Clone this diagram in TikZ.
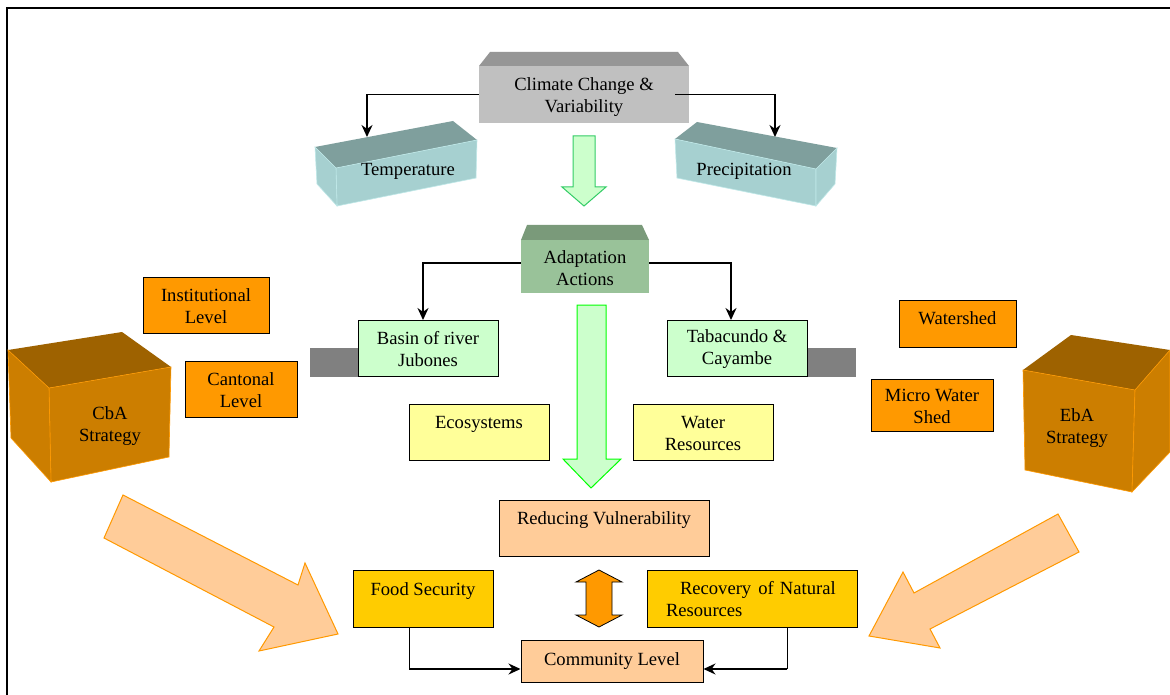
\documentclass[tikz,border=0pt]{standalone}
\usepackage{fontspec}
\setmainfont{Liberation Serif}
\usetikzlibrary{arrows.meta}
\definecolor{grayF}{HTML}{C0C0C0}\definecolor{grayT}{HTML}{969696}
\definecolor{tealF}{HTML}{A6D0D0}\definecolor{tealT}{HTML}{7F9F9D}\definecolor{tealE}{HTML}{BFE8E8}
\definecolor{adF}{HTML}{99C299}\definecolor{adT}{HTML}{7A9A7A}
\definecolor{cubeF}{HTML}{CC7E00}\definecolor{cubeT}{HTML}{9E6200}\definecolor{cubeE}{HTML}{FF9900}
\definecolor{orangeB}{HTML}{FF9900}\definecolor{yellowB}{HTML}{FFFF99}\definecolor{mintB}{HTML}{CCFFCC}
\definecolor{peachB}{HTML}{FFCC99}\definecolor{goldB}{HTML}{FFCC00}\definecolor{barG}{HTML}{808080}
\definecolor{arrowG}{HTML}{33CC66}
\newcommand\lowr[1]{\rule{0pt}{\dimexpr13pt+#1*2\relax}}
\tikzset{
  txt/.style={font=\fontsize{18.6}{22}\selectfont,align=center,text=black,inner sep=0pt},
  box/.style={txt,draw=black,line width=1pt},
  orangebox/.style={box,fill=orangeB},
  yellowbox/.style={box,fill=yellowB,minimum width=140pt,minimum height=56pt},
  mintbox/.style={box,fill=mintB,minimum width=140pt,minimum height=56pt},
  peachbox/.style={box,fill=peachB},
  goldbox/.style={box,fill=goldB,minimum height=57pt},
  conn/.style={draw=black,line width=1.5pt,-{Stealth[length=12pt,width=11pt]}},
  bigarrow/.style={fill=mintB,line width=1pt},
  peacharrow/.style={fill=peachB,draw=cubeE,line width=1pt},
}
\begin{document}
\begin{tikzpicture}[x=1pt,y=-1pt]
\useasboundingbox (0,0) rectangle (1170,695);
\fill[white] (0,0) rectangle (1170,695);
% frame
\coordinate (fa) at (7,695);\coordinate (fb) at (7,8);\coordinate (fc) at (1170,8);
\draw[black,line width=1.6pt] (fa) -- (fb) -- (fc);
% gray bars
\fill[barG] (310,348) rectangle (360,377);
\fill[barG] (805,348) rectangle (856,377);
% climate block
\fill[grayT] (490,52) -- (678,52) -- (689,66) -- (479,66) -- cycle;
\node[txt,fill=grayF,minimum width=210pt,minimum height=57pt] (climate) at (584,94.5) {\lowr{3pt}Climate Change \&\\Variability};
% temperature block
\fill[tealT] (315,147) -- (453,121) -- (477,140) -- (336,168) -- cycle;
\fill[tealF,draw=tealE,line width=.6pt] (336,168) -- (477,140) -- (476,178) -- (337,206) -- cycle;
\fill[tealF,draw=tealE,line width=.6pt] (315,147) -- (336,168) -- (337,206) -- (317,184) -- cycle;
\node[txt] (temp) at (408,171) {Temperature};
\coordinate (temptop) at (367,137);
% precipitation block
\fill[tealT] (675,139) -- (697,122) -- (837,148) -- (816,169) -- cycle;
\fill[tealF,draw=tealE,line width=.6pt] (675,139) -- (816,169) -- (816,206) -- (677,178) -- cycle;
\fill[tealF,draw=tealE,line width=.6pt] (816,169) -- (837,148) -- (835,184) -- (816,206) -- cycle;
\node[txt] (prec) at (744,171) {Precipitation};
\coordinate (prectop) at (775,137);
\draw[conn] (climate.west) -| (temptop);
\draw[conn] ([xshift=-14pt]climate.east) -| (prectop);
% first green arrow
\draw[bigarrow,draw=arrowG] (573,136) -- (595,136) -- (595,187) -- (606,187) -- (584,206) -- (562,187) -- (573,187) -- cycle;
% adaptation
\fill[adT] (527,225) -- (642,225) -- (649,240) -- (521,240) -- cycle;
\node[txt,fill=adF,minimum width=128pt,minimum height=53pt] (adapt) at (585,266.5) {\lowr{2pt}Adaptation\\Actions};
\node[mintbox] (basin) at (428,348) {\lowr{1pt}Basin of river\\Jubones};
\node[mintbox] (taba) at (737,348) {\lowr{1pt}Tabacundo \&\\Cayambe};
\coordinate (basintop) at (423,320);
\coordinate (tabatop) at (731,320);
\draw[conn] ([yshift=3.5pt]adapt.west) -| (basintop);
\draw[conn] ([yshift=3.5pt]adapt.east) -| (tabatop);
% big green arrow
\draw[bigarrow,draw=green] (577,305) -- (606,305) -- (606,459) -- (621,459) -- (591,488) -- (563,459) -- (577,459) -- cycle;
\node[yellowbox] (eco) at (479,432) {Ecosystems\\[-9pt]\strut};
\node[yellowbox] (water) at (703,432) {\lowr{1.2pt}Water\\Resources};
% orange boxes
\node[orangebox,minimum width=126pt,minimum height=56pt] (inst) at (206,305) {\lowr{1pt}Institutional\\Level};
\node[orangebox,minimum width=112pt,minimum height=56pt] (cant) at (241,389) {\lowr{1pt}Cantonal\\Level};
\node[orangebox,minimum width=117pt,minimum height=47pt] (wshed) at (957.5,323.5) {Watershed\\[-17pt]\strut};
\node[orangebox,minimum width=122pt,minimum height=52pt] (micro) at (932,405) {\lowr{1pt}Micro Water\\Shed};
% CbA cube
\fill[cubeT] (8,350) -- (122,332) -- (171,367) -- (49,388) -- cycle;
\fill[cubeF,draw=cubeE,line width=.6pt] (49,388) -- (171,367) -- (169,457) -- (51,482) -- cycle;
\fill[cubeF,draw=cubeE,line width=.6pt] (8,350) -- (49,388) -- (51,482) -- (11,438) -- cycle;
\node[txt] (cba) at (110,426) {CbA\\Strategy};
% EbA cube
\fill[cubeT] (1023,370) -- (1071,335) -- (1170,350) -- (1135,390) -- cycle;
\fill[cubeF,draw=cubeE,line width=.6pt] (1023,370) -- (1135,390) -- (1132,492) -- (1025,470) -- cycle;
\fill[cubeF,draw=cubeE,line width=.6pt] (1135,390) -- (1170,350) -- (1170,452) -- (1132,492) -- cycle;
\node[txt] (eba) at (1077,428) {EbA\\Strategy};
% bottom
\node[peachbox,minimum width=210pt,minimum height=56pt] (reduce) at (604,528) {Reducing Vulnerability\\[-9pt]\strut};
\node[goldbox,minimum width=140pt] (food) at (423,598.5) {Food Security\\[-9pt]\strut};
\node[goldbox,minimum width=210pt,text width=172pt,inner xsep=19pt,align=left] (recov) at (752,598.5) {\mbox{\lowr{1pt}\hspace*{14pt}Recovery\hspace{7pt}of Natural}\\Resources};
\node[peachbox,minimum width=182pt,minimum height=42pt] (comm) at (612,661) {Community Level};
\coordinate (foodout) at (409,627);
\coordinate (recovout) at (787,627);
\draw[black,line width=1pt] (foodout) -- (409,669);
\draw[black,line width=1pt] (recovout) -- (787,669);
\draw[conn] (409,669) -- ([yshift=-8pt]comm.west);
\draw[conn] (787,669) -- ([yshift=-8pt]comm.east);
% double arrow
\draw[fill=orangeB,draw=black,line width=.8pt] (599,570) -- (622,582) -- (612,582) -- (612,615) -- (622,615) -- (599,627) -- (576,615) -- (586,615) -- (586,582) -- (576,582) -- cycle;
% peach arrows
\draw[peacharrow] (123,495) -- (298,585) -- (305,563) -- (338,634) -- (259,651) -- (274,627) -- (104,538) -- cycle;
\draw[peacharrow] (1058,514) -- (1079,552) -- (930,629) -- (940,648) -- (869,636) -- (903,572) -- (914,593) -- cycle;
\end{tikzpicture}
\end{document}
